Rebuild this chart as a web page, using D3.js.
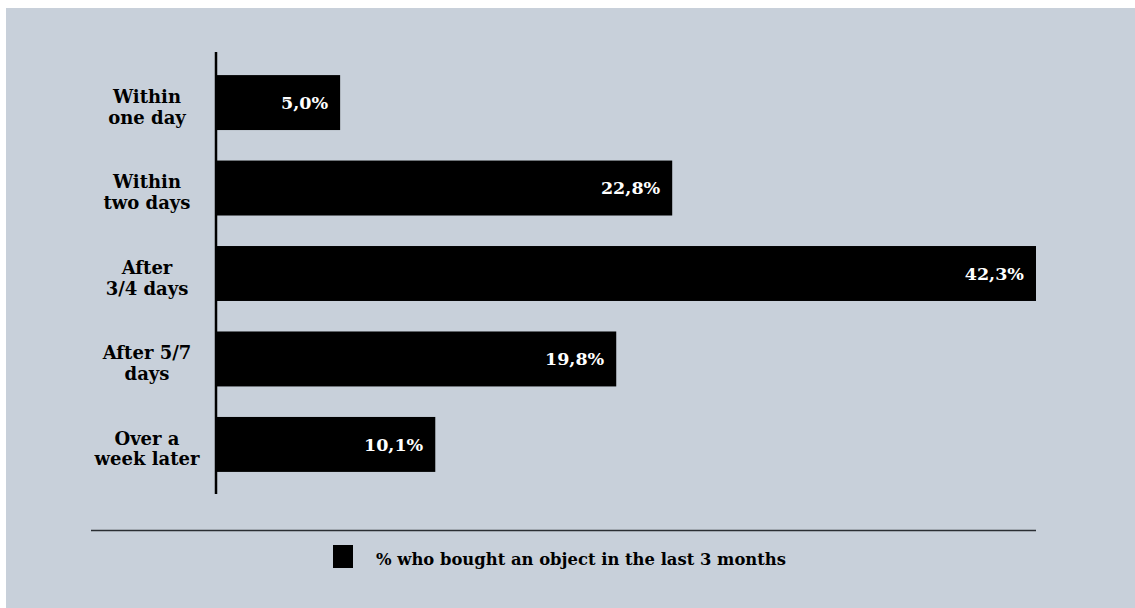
<!DOCTYPE html>
<html>
<head>
<meta charset="utf-8">
<script src="https://cdn.jsdelivr.net/npm/d3@7"></script>
<style>
  html, body { margin: 0; padding: 0; background: #fff; }
  svg { display: block; }
</style>
</head>
<body>
<div id="chart"></div>
<script>
// categories (two-line labels) and values in %
const categories = [
  ['Within', 'one day'],
  ['Within', 'two days'],
  ['After', '3/4 days'],
  ['After 5/7', 'days'],
  ['Over a', 'week later']
];
const values = [5.0, 22.8, 42.3, 19.8, 10.1];
const legendLabel = '% who bought an object in the last 3 months';

const W = 1135, H = 608;
const BG = '#c8d0da';
const FONT = '"DejaVu Serif", "Liberation Serif", serif';

const data = categories.map((c, i) => ({ id: i, label: c, value: values[i] }));

const svg = d3.select('#chart').append('svg')
  .attr('width', W)
  .attr('height', H)
  .style('font-family', FONT);

// panel background
svg.append('rect')
  .attr('x', 6).attr('y', 8)
  .attr('width', W - 6).attr('height', H - 8)
  .attr('fill', BG);

// ── Scales ──
const x = d3.scaleLinear()
  .domain([-1.6, 42.3])
  .range([217, 1036]);
const x0 = x.range()[0];

const y = d3.scaleBand()
  .domain(data.map(d => d.id))
  .range([58, 489])
  .paddingInner(0.357)
  .paddingOuter(0.2);

// ── Bars ──
svg.append('g')
  .selectAll('rect')
  .data(data)
  .enter()
  .append('rect')
  .attr('x', x0)
  .attr('y', d => y(d.id))
  .attr('width', d => x(d.value) - x0)
  .attr('height', y.bandwidth())
  .attr('fill', '#000');

// value labels inside bar end
svg.append('g')
  .selectAll('text')
  .data(data)
  .enter()
  .append('text')
  .attr('x', d => x(d.value) - 12)
  .attr('y', d => y(d.id) + y.bandwidth() / 2)
  .attr('dy', '0.36em')
  .attr('text-anchor', 'end')
  .attr('fill', '#fff')
  .attr('font-size', '17.5px')
  .attr('font-weight', '700')
  .text(d => d3.format('.1f')(d.value).replace('.', ',') + '%');

// ── Y axis line ──
svg.append('line')
  .attr('x1', 216).attr('x2', 216)
  .attr('y1', 52).attr('y2', 494)
  .attr('stroke', '#000')
  .attr('stroke-width', 2.5);

// category labels (two lines, centred)
const catLabels = svg.append('g')
  .selectAll('text')
  .data(data)
  .enter()
  .append('text')
  .attr('x', 147)
  .attr('y', d => y(d.id) + y.bandwidth() / 2)
  .attr('text-anchor', 'middle')
  .attr('fill', '#000')
  .attr('font-size', '18px')
  .attr('font-weight', '700');

catLabels.selectAll('tspan')
  .data(d => d.label.map((t, i) => ({ t, i })))
  .enter()
  .append('tspan')
  .attr('x', 147)
  .attr('dy', d => d.i === 0 ? '0.02em' : '1.15em')
  .text(d => d.t);

// ── Legend ──
svg.append('line')
  .attr('x1', 91).attr('x2', 1036)
  .attr('y1', 530.5).attr('y2', 530.5)
  .attr('stroke', '#2a2e33')
  .attr('stroke-width', 1.5);

svg.append('rect')
  .attr('x', 333).attr('y', 545)
  .attr('width', 20).attr('height', 23)
  .attr('fill', '#000');

svg.append('text')
  .attr('x', 376)
  .attr('y', 559)
  .attr('dy', '0.36em')
  .attr('fill', '#000')
  .attr('font-size', '16.4px')
  .attr('font-weight', '700')
  .text(legendLabel);
</script>
</body>
</html>
